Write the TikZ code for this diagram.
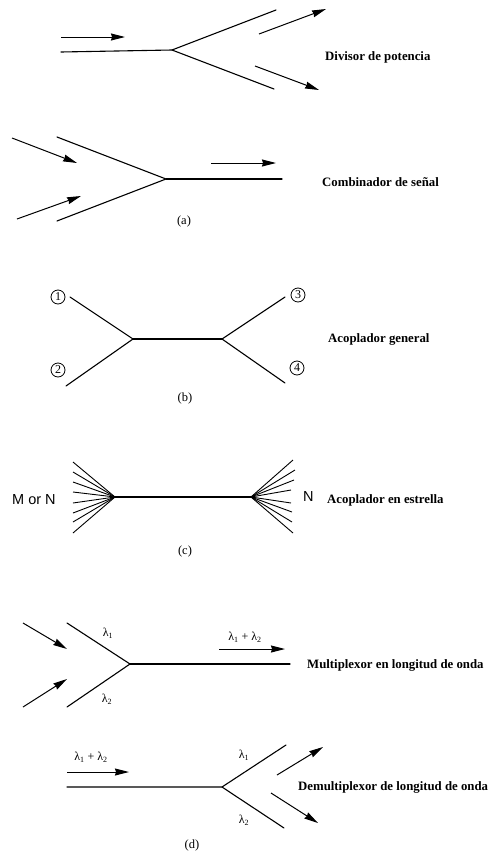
\documentclass[tikz,border=0pt]{standalone}
\usepackage{fontspec}
\setmainfont{Liberation Serif}
\newfontfamily\labsans{Liberation Sans}
\usetikzlibrary{arrows.meta}
\tikzset{
  fib/.style={line width=1.1pt, line cap=round},
  sig/.style={line width=1.0pt, -{Stealth[length=14pt,width=7pt,inset=1pt]}},
  title/.style={font=\bfseries\fontsize{12.8}{14}\selectfont, anchor=west, inner sep=0pt},
  sub/.style={font=\fontsize{12.5}{14}\selectfont, inner sep=0pt},
  lam/.style={font=\fontsize{12}{14}\selectfont, inner sep=0pt},
  port/.style={circle, draw, line width=0.8pt, inner sep=0pt, minimum size=14pt, font=\fontsize{12}{13}\selectfont},
  fanline/.style={line width=0.9pt},
  sanslbl/.style={inner sep=0pt, font=\labsans\fontsize{14.5}{16}\selectfont, anchor=west}
}
\begin{document}
\begin{tikzpicture}[x=1pt,y=-1pt]
\useasboundingbox (0,0) rectangle (491,854);
% ---------- (a) power divider
\coordinate (d-in) at (61,52);
\coordinate (d-j) at (172,50);
\coordinate (d-u) at (276,10);
\coordinate (d-l) at (274,89);
\draw[fib] (d-in) -- (d-j) -- (d-u);
\draw[fib] (d-j) -- (d-l);
\coordinate (d-a1s) at (61,37); \coordinate (d-a1e) at (125,37);
\draw[sig] (d-a1s) -- (d-a1e);
\coordinate (d-a2s) at (259,34); \coordinate (d-a2e) at (326,9);
\draw[sig] (d-a2s) -- (d-a2e);
\coordinate (d-a3s) at (255,66); \coordinate (d-a3e) at (319,90);
\draw[sig] (d-a3s) -- (d-a3e);
\node[title] (t-div) at (325,57) {Divisor de potencia};
% ---------- (a) combiner
\coordinate (c-u) at (57,137);
\coordinate (c-l) at (57,221);
\coordinate (c-j) at (166,179);
\coordinate (c-out) at (282,179);
\draw[fib] (c-u) -- (c-j) -- (c-l);
\draw[fib] (c-j) -- (c-out);
\coordinate (c-a1s) at (12,138); \coordinate (c-a1e) at (77,163);
\draw[sig] (c-a1s) -- (c-a1e);
\coordinate (c-a2s) at (17,219); \coordinate (c-a2e) at (81,196);
\draw[sig] (c-a2s) -- (c-a2e);
\coordinate (c-a3s) at (211,163); \coordinate (c-a3e) at (276,163);
\draw[sig] (c-a3s) -- (c-a3e);
\node[title] (t-comb) at (322,182) {Combinador de señal};
\node[sub] (t-a) at (184,221) {(a)};
% ---------- (b) general coupler
\node[port] (p1) at (58,297) {1};
\node[port] (p2) at (58,370) {2};
\node[port] (p3) at (298,295) {3};
\node[port] (p4) at (297,368) {4};
\coordinate (b-j1) at (133,339);
\coordinate (b-j2) at (222,339);
\coordinate (b-e1) at (70,297);
\coordinate (b-e2) at (66,386);
\coordinate (b-e3) at (285,297);
\coordinate (b-e4) at (285,383);
\draw[fib] (b-e1) -- (b-j1) -- (b-e2);
\draw[fib] (b-j1) -- (b-j2);
\draw[fib] (b-e3) -- (b-j2) -- (b-e4);
\node[title] (t-gen) at (328,339) {Acoplador general};
\node[sub] (t-b) at (185,398) {(b)};
% ---------- (c) star coupler
\coordinate (s-l) at (115,497);
\coordinate (s-r) at (251,497);
\draw[fib] (s-l) -- (s-r);
\foreach \y [count=\i] in {462,472,482,492,503,513,522,533}{
  \coordinate (sl\i) at (73,\y);
  \draw[fanline] (sl\i) -- (s-l);
}
\foreach \y/\x [count=\i] in {460/293,470/295,480/294,490/291,503/291,512/292,522/292,533/293}{
  \coordinate (sr\i) at (\x,\y);
  \draw[fanline] (s-r) -- (sr\i);
}
\node[sanslbl] (t-mn) at (12,500) {M or N};
\node[sanslbl] (t-n) at (303,497) {N};
\node[title] (t-star) at (327,500) {Acoplador en estrella};
\node[sub] (t-c) at (185,551) {(c)};
% ---------- (d) multiplexer
\coordinate (m-u) at (67,623);
\coordinate (m-l) at (67,707);
\coordinate (m-j) at (130,664);
\coordinate (m-out) at (290,664);
\draw[fib] (m-u) -- (m-j) -- (m-l);
\draw[fib] (m-j) -- (m-out);
\coordinate (m-a1s) at (23,623); \coordinate (m-a1e) at (67,649);
\draw[sig] (m-a1s) -- (m-a1e);
\coordinate (m-a2s) at (23,707); \coordinate (m-a2e) at (67,679);
\draw[sig] (m-a2s) -- (m-a2e);
\coordinate (m-a3s) at (219,649); \coordinate (m-a3e) at (285,649);
\draw[sig] (m-a3s) -- (m-a3e);
\node[lam] (m-l1) at (108,633) {λ\textsubscript{1}};
\node[lam] (m-l2) at (107,699) {λ\textsubscript{2}};
\node[lam] (m-l12) at (245,637) {λ\textsubscript{1} + λ\textsubscript{2}};
\node[title] (t-mux) at (307,665) {Multiplexor en longitud de onda};
% ---------- (d) demultiplexer
\coordinate (x-in) at (67,787);
\coordinate (x-j) at (222,787);
\coordinate (x-u) at (286,745);
\coordinate (x-l) at (284,828);
\draw[fib] (x-in) -- (x-j) -- (x-u);
\draw[fib] (x-j) -- (x-l);
\coordinate (x-a1s) at (67,772); \coordinate (x-a1e) at (129,772);
\draw[sig] (x-a1s) -- (x-a1e);
\coordinate (x-a2s) at (277,775); \coordinate (x-a2e) at (323,747);
\draw[sig] (x-a2s) -- (x-a2e);
\coordinate (x-a3s) at (271,793); \coordinate (x-a3e) at (318,823);
\draw[sig] (x-a3s) -- (x-a3e);
\node[lam] (x-l12) at (91,757) {λ\textsubscript{1} + λ\textsubscript{2}};
\node[lam] (x-l1) at (244,755) {λ\textsubscript{1}};
\node[lam] (x-l2) at (244,820) {λ\textsubscript{2}};
\node[title] (t-dmux) at (298,787) {Demultiplexor de longitud de onda};
\node[sub] (t-d) at (192,845) {(d)};
\end{tikzpicture}
\end{document}
